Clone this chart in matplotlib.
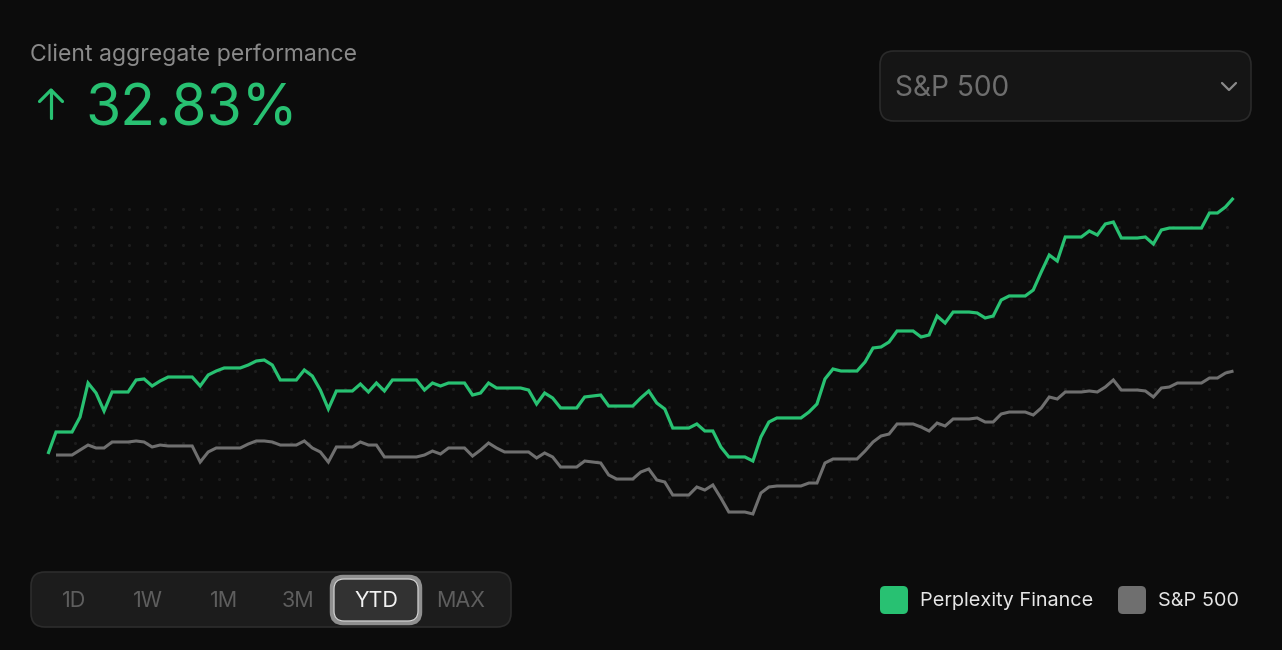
import numpy as np
import matplotlib
matplotlib.use("Agg")
import matplotlib.pyplot as plt
from matplotlib.patches import FancyBboxPatch

# ---------------- data (percent return, YTD) ----------------
perplexity = [
    0.00, 2.82, 2.82, 2.82, 4.74, 9.10, 7.82, 5.51, 7.95, 7.95,
    7.95, 9.49, 9.62, 8.72, 9.36, 9.87, 9.87, 9.87, 9.87, 8.72,
    10.13, 10.64, 11.03, 11.03, 11.03, 11.41, 11.92, 12.05, 11.41, 9.49,
    9.49, 9.49, 10.77, 10.00, 8.20, 5.77, 8.08, 8.08, 8.08, 8.97,
    7.95, 9.10, 8.08, 9.49, 9.49, 9.49, 9.49, 8.20, 9.10, 8.72,
    9.10, 9.10, 9.10, 7.56, 7.82, 9.10, 8.46, 8.46, 8.46, 8.46,
    8.20, 6.41, 7.82, 7.18, 5.90, 5.90, 5.90, 7.31, 7.44, 7.56,
    6.15, 6.15, 6.15, 6.15, 7.18, 8.08, 6.54, 5.77, 3.33, 3.33,
    3.33, 3.85, 2.95, 2.95, 0.90, -0.38, -0.38, -0.38, -0.90, 2.18,
    4.10, 4.62, 4.62, 4.62, 4.62, 5.38, 6.41, 9.62, 10.90, 10.64,
    10.64, 10.64, 11.79, 13.59, 13.72, 14.36, 15.77, 15.77, 15.77, 15.00,
    15.26, 17.69, 16.79, 18.20, 18.20, 18.20, 18.08, 17.44, 17.69, 19.74,
    20.26, 20.26, 20.26, 21.02, 23.33, 25.51, 24.74, 27.82, 27.82, 27.82,
    28.59, 28.08, 29.49, 29.74, 27.69, 27.69, 27.69, 27.82, 26.92, 28.72,
    28.97, 28.97, 28.97, 28.97, 28.97, 30.90, 30.90, 31.67, 32.83,
]
sp500 = [
    np.nan, -0.13, -0.13, -0.13, 0.51, 1.15, 0.77, 0.77, 1.54, 1.54,
    1.54, 1.67, 1.54, 0.90, 1.15, 1.03, 1.03, 1.03, 1.03, -1.03,
    0.26, 0.77, 0.77, 0.77, 0.77, 1.28, 1.67, 1.67, 1.54, 1.15,
    1.15, 1.15, 1.67, 0.77, 0.26, -1.03, 0.90, 0.90, 0.90, 1.54,
    1.15, 1.15, -0.38, -0.38, -0.38, -0.38, -0.38, -0.13, 0.38, 0.00,
    0.77, 0.77, 0.77, -0.26, 0.51, 1.41, 0.77, 0.26, 0.26, 0.26,
    0.26, -0.51, 0.13, -0.38, -1.67, -1.67, -1.67, -0.90, -1.03, -1.15,
    -2.69, -3.21, -3.21, -3.21, -2.31, -1.92, -3.33, -3.59, -5.26, -5.26,
    -5.26, -4.23, -4.62, -3.97, -5.64, -7.44, -7.44, -7.44, -7.69, -5.00,
    -4.23, -4.10, -4.10, -4.10, -4.10, -3.72, -3.72, -1.15, -0.64, -0.64,
    -0.64, -0.64, 0.38, 1.54, 2.31, 2.56, 3.85, 3.85, 3.85, 3.46,
    2.95, 3.97, 3.59, 4.49, 4.49, 4.49, 4.62, 4.10, 4.10, 5.13,
    5.38, 5.38, 5.38, 5.00, 5.90, 7.31, 7.05, 7.95, 7.95, 7.95,
    8.08, 7.95, 8.59, 9.49, 8.20, 8.20, 8.20, 8.08, 7.31, 8.46,
    8.59, 9.10, 9.10, 9.10, 9.10, 9.74, 9.74, 10.38, 10.64,
]
series_names = ["Perplexity Finance", "S&P 500"]
ranges = ["1D", "1W", "1M", "3M", "YTD", "MAX"]
active_range = "YTD"
headline = "32.83%"
title = "Client aggregate performance"
benchmark = "S&P 500"

# ---------------- style ----------------
BG = "#0c0c0c"
GREEN = "#28c172"
GRAY = "#6f6f6f"
FONT = ["Inter", "DejaVu Sans"]
plt.rcParams["font.family"] = FONT

W, H = 1282, 650
fig = plt.figure(figsize=(W / 100, H / 100), dpi=100, facecolor=BG)

# overlay in pixel space (for UI chrome and the dot grid)
ui = fig.add_axes([0, 0, 1, 1], zorder=1)
ui.set_xlim(0, W)
ui.set_ylim(H, 0)
ui.axis("off")
ui.patch.set_alpha(0)

# chart axes (data space)
ax = fig.add_axes([0, 0, 1, 1], zorder=2)
ax.patch.set_alpha(0)
ax.axis("off")
n = len(perplexity)
x = np.arange(n)
px_per_idx = 8.01
px_per_pct = 7.8
x0_px, y0_px = 48, 454  # pixel location of day 0 / 0%
ax.set_xlim(-x0_px / px_per_idx, (W - x0_px) / px_per_idx)
ax.set_ylim(-(H - y0_px) / px_per_pct, y0_px / px_per_pct)

# dotted background grid
gx, gy = np.meshgrid(np.arange(57, 1230, 18), np.arange(209, 500, 18))
ui.scatter(gx.ravel(), gy.ravel(), s=5, color="#1d1d1d", linewidths=0, zorder=0)

ax.plot(x, sp500, color=GRAY, lw=2.2, solid_joinstyle="miter", solid_capstyle="butt")
ax.plot(x, perplexity, color=GREEN, lw=2.3, solid_joinstyle="miter", solid_capstyle="butt")

# ---------------- header ----------------
ui.text(30, 55, title, color="#8a8a8a", fontsize=16.6, va="center", ha="left")
# arrow icon
ui.plot([51, 51], [90, 118], color=GREEN, lw=2.3, solid_capstyle="round")
ui.plot([39.5, 51, 62.5], [101.5, 90, 101.5], color=GREEN, lw=2.3,
        solid_capstyle="round", solid_joinstyle="round")
ui.text(85, 110, headline, color=GREEN, fontsize=41, va="center", ha="left")

# dropdown
dd = FancyBboxPatch((880, 51), 371, 70, boxstyle="round,pad=0,rounding_size=14",
                    facecolor="#151515", edgecolor="#2a2a2a", lw=1.2)
ui.add_patch(dd)
ui.text(895, 88, benchmark, color="#6e6e6e", fontsize=20.2, va="center", ha="left")
ui.plot([1222, 1229, 1236], [83, 90, 83], color="#8a8a8a", lw=1.6,
        solid_capstyle="round", solid_joinstyle="round")

# ---------------- range selector ----------------
grp = FancyBboxPatch((31, 572), 480, 55, boxstyle="round,pad=0,rounding_size=14",
                     facecolor="#1c1c1c", edgecolor="#2c2c2c", lw=1.2)
ui.add_patch(grp)
centers = [74, 148, 224, 298, 376, 461]
for lab, cx in zip(ranges, centers):
    if lab == active_range:
        btn = FancyBboxPatch((332, 577), 88, 46, boxstyle="round,pad=0,rounding_size=11",
                             facecolor="#323232", edgecolor="#8f8f8f", lw=3.2)
        ui.add_patch(btn)
        btn2 = FancyBboxPatch((334, 579), 84, 42, boxstyle="round,pad=0,rounding_size=10",
                              facecolor="none", edgecolor="#d8d8d8", lw=0.8)
        ui.add_patch(btn2)
        ui.text(cx, 601, lab, color="#f2f2f2", fontsize=15.5, va="center", ha="center")
    else:
        ui.text(cx, 601, lab, color="#5e5e5e", fontsize=15.5, va="center", ha="center")

# ---------------- legend ----------------
for (lx, tx), name, col in zip([(880, 920), (1118, 1158)], series_names, [GREEN, GRAY]):
    sq = FancyBboxPatch((lx, 586), 28, 28, boxstyle="round,pad=0,rounding_size=5",
                        facecolor=col, edgecolor="none")
    ui.add_patch(sq)
    ui.text(tx, 601, name, color="#e6e6e6", fontsize=14.3, va="center", ha="left")

fig.savefig("out.png", dpi=100, facecolor=BG)
